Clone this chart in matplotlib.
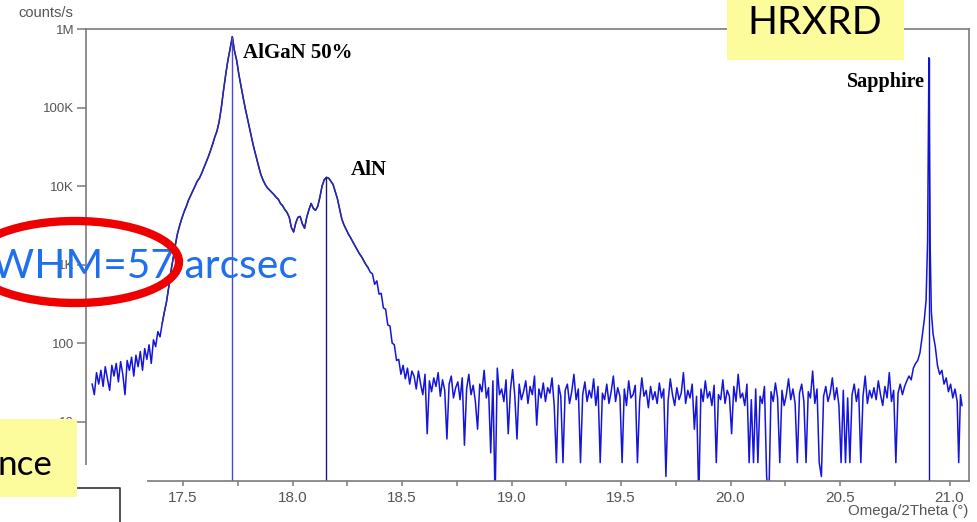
import matplotlib
matplotlib.use("Agg")
import matplotlib.pyplot as plt
import matplotlib.ticker as mticker
from matplotlib.patches import Rectangle, Ellipse
from matplotlib.lines import Line2D
import numpy as np

W, H = 977, 522
STEP = 0.01

# Scan data (counts/s), 0.01 deg steps
low_start = 17.085
low_counts = [30, 22, 42, 30, 45, 28, 50, 35, 25, 52, 38, 55, 32, 58, 40, 22,
              60, 45, 66, 38, 70, 50, 78, 45, 85, 62, 95, 55, 110, 90, 140, 120]

rise_start = 17.405
rise_counts = [178, 250, 340, 520, 830, 1200, 1780, 2500, 3160, 3900, 4700,
               5500, 6600, 7600, 8700, 10000, 11500, 12600, 14500, 17000, 20000,
               23400, 28000, 34000, 42000, 50000, 66000, 100000, 166000, 263000,
               400000, 560000, 800000]

fall_start = 17.735
fall_counts = [525000, 400000, 263000, 186000, 132000, 95000, 71000, 52500, 39000, 29500,
               23000, 17800, 14100, 12000, 10500, 9500, 8900, 8300, 7800, 7200,
               6800, 6000, 5600, 5000, 4600, 4000, 2950, 2600, 3400, 4000,
               4100, 3300, 2900, 4000, 5000, 6000, 5200, 4900, 5500, 7200,
               10000, 12000, 12900, 12600, 11500, 10500, 8500, 6900, 5100, 3800,
               3200, 2800, 2450, 2200, 1950, 1740, 1550, 1380, 1260, 1120,
               1000, 910, 800, 760, 560, 620, 420, 430, 280, 270,
               170, 165, 100, 95, 60, 62, 40, 52, 35, 48,
               30, 44]

base_start = 18.555
base_counts = [38, 26, 44, 30, 22, 40, 7, 33, 24, 36,
               28, 42, 21, 34, 25, 6, 30, 38, 20, 27,
               32, 19, 36, 5, 26, 40, 22, 29, 18, 8,
               30, 24, 45, 20, 27, 4, 33, 1, 48, 22,
               26, 18, 34, 7, 25, 46, 21, 6, 30, 19,
               24, 33, 17, 28, 22, 38, 9, 26, 20, 31,
               18, 27, 23, 36, 16, 3, 29, 21, 3, 25,
               30, 17, 24, 40, 19, 26, 3, 22, 32, 18,
               25, 20, 35, 16, 28, 3, 23, 19, 30, 17,
               24, 38, 18, 27, 21, 3, 26, 16, 33, 20,
               22, 29, 3, 18, 36, 21, 25, 15, 28, 19,
               24, 17, 31, 20, 26, 2, 18, 35, 22, 16,
               27, 19, 23, 42, 17, 25, 20, 30, 8, 21,
               1, 26, 18, 33, 20, 24, 16, 29, 3, 22,
               19, 34, 17, 25, 21, 7, 28, 18, 40, 20,
               23, 16, 30, 3, 19, 3, 26, 3, 21, 17,
               28, 2, 1, 24, 18, 31, 20, 3, 25, 16,
               22, 35, 19, 26, 17, 3, 23, 30, 18, 3,
               24, 20, 44, 17, 26, 3, 2, 21, 28, 18,
               23, 36, 19, 27, 16, 3, 25, 3, 20, 3,
               22, 30, 18, 26, 3, 21, 38, 17, 25, 20,
               27, 19, 33, 22, 16, 28, 20, 42, 18, 25,
               3, 23, 30, 22, 28, 33, 38, 34, 48, 55]

sapphire_angles = [20.855, 20.865, 20.875, 20.885, 20.893, 20.900, 20.904, 20.906,
                   20.908, 20.912, 20.917, 20.925, 20.935, 20.945, 20.955, 20.965,
                   20.975, 20.985, 20.995, 21.005, 21.015, 21.025, 21.035, 21.042,
                   21.050, 21.057]
sapphire_counts = [60, 75, 120, 200, 350, 2000, 60000, 430000,
                   50000, 1500, 250, 130, 90, 52, 40, 45,
                   30, 36, 24, 30, 20, 26, 18, 3,
                   22, 16]

peak_names = ["AlGaN 50%", "AlN", "Sapphire"]
peak_angles = [17.725, 18.155, 20.906]
peak_heights = [800000, 12900, 430000]

y_ticks = [10, 100, 1e3, 1e4, 1e5, 1e6]
y_tick_labels = ["10", "100", "1K", "10K", "100K", "1M"]
x_ticks = [17.5, 18.0, 18.5, 19.0, 19.5, 20.0, 20.5, 21.0]


def seg(start, counts):
    return list(np.round(start + STEP * np.arange(len(counts)), 4))


angles = (seg(low_start, low_counts) + seg(rise_start, rise_counts)
          + seg(fall_start, fall_counts) + seg(base_start, base_counts)
          + sapphire_angles)
counts = low_counts + rise_counts + fall_counts + base_counts + sapphire_counts


def fx(px):
    return px / W


def fy(py):
    return 1 - py / H


fig = plt.figure(figsize=(W / 100, H / 100), dpi=100)
ax = fig.add_axes([fx(86), fy(481), fx(969) - fx(86), fy(29) - fy(481)])

# noisy trace in bright blue, the smooth peak region drawn over it in navy
ax.plot(angles, counts, color="#1414dc", lw=1.1)
smooth_x = seg(rise_start, rise_counts) + seg(fall_start, fall_counts)[:62]
smooth_y = rise_counts + fall_counts[:62]
ax.plot(smooth_x, smooth_y, color="#2b2b96", lw=1.0)
ax.vlines(peak_angles, 1.0, peak_heights, colors=["#4848d8", "#1a1a6e", "#1010c8"], lw=1.0)

ax.set_yscale("log")
ax.set_xlim(17.057, 21.089)
ax.set_ylim(1.75, 1e6)
ax.set_yticks(y_ticks)
ax.set_yticklabels(y_tick_labels)
ax.yaxis.set_minor_locator(mticker.NullLocator())
ax.set_xticks(x_ticks)
ax.set_xticklabels([f"{v:.1f}" for v in x_ticks])
ax.xaxis.set_minor_locator(mticker.MultipleLocator(0.25))

grey = "#7a7a7a"
for s in ax.spines.values():
    s.set_color(grey)
    s.set_linewidth(1.2)
ax.tick_params(axis="y", direction="out", length=6.5, width=1.1, color=grey,
               labelsize=9.5, labelcolor="#555555", pad=2)
ax.tick_params(axis="x", which="both", direction="out", length=3.5, width=1.1,
               color=grey, labelsize=11, labelcolor="#555555", pad=4)
for lab in ax.get_xticklabels() + ax.get_yticklabels():
    lab.set_family("Liberation Sans")

# peak labels
ax.text(17.774, 4.9e5, peak_names[0], family="Liberation Serif", weight="bold",
        fontsize=15, ha="left", va="center")
ax.text(18.267, 1.58e4, peak_names[1], family="Liberation Serif", weight="bold",
        fontsize=15, ha="left", va="center")
ax.text(20.888, 2.1e5, peak_names[2], family="Liberation Serif", weight="bold",
        fontsize=14.5, ha="right", va="center")

fig.text(fx(18), fy(13), "counts/s", family="Liberation Sans", fontsize=10.5,
         color="#555555", ha="left", va="center")
fig.text(fx(968), fy(511), "Omega/2Theta (°)", family="Liberation Sans", fontsize=10.8,
         color="#555555", ha="right", va="center")

# slide overlays
fig.add_artist(Rectangle((0, 0), fx(147), fy(465), transform=fig.transFigure,
                         facecolor="white", edgecolor="none", zorder=5))
fig.add_artist(Line2D([0, fx(120), fx(120)], [fy(488), fy(488), 0],
                      transform=fig.transFigure, color="#333333", lw=1.2, zorder=5))
yellow = "#fcfc9c"
fig.add_artist(Rectangle((fx(727), fy(60)), fx(904) - fx(727), 1 - fy(60),
                         transform=fig.transFigure, facecolor=yellow, edgecolor="none",
                         zorder=6))
fig.add_artist(Rectangle((0, fy(497)), fx(77), fy(419) - fy(497),
                         transform=fig.transFigure, facecolor=yellow, edgecolor="none",
                         zorder=6))

t_hr = fig.text(fx(815), fy(23), "HRXRD", family="Lato", fontsize=30, color="black",
                ha="center", va="center", zorder=7)
t_nce = fig.text(fx(52), fy(475), "nce", family="Lato", fontsize=34, color="black",
                 ha="right", va="baseline", zorder=7)
t_fw = fig.text(fx(298), fy(278), "WHM=57 arcsec", family="Lato", fontsize=30,
                color="#1f6fef", ha="right", va="baseline", zorder=7)

fig.add_artist(Ellipse((fx(75), fy(262)), 2 * 104 / W, 2 * 41 / H,
                       transform=fig.transFigure, facecolor="none",
                       edgecolor="#ee0000", lw=6, zorder=8))

# size the overlay texts to the widths seen on the slide
renderer = fig.canvas.get_renderer()
for t, target in [(t_hr, 134), (t_nce, 55), (t_fw, 305)]:
    bb = t.get_window_extent(renderer)
    t.set_fontsize(t.get_fontsize() * target / bb.width)

fig.savefig("out.png", dpi=100)
